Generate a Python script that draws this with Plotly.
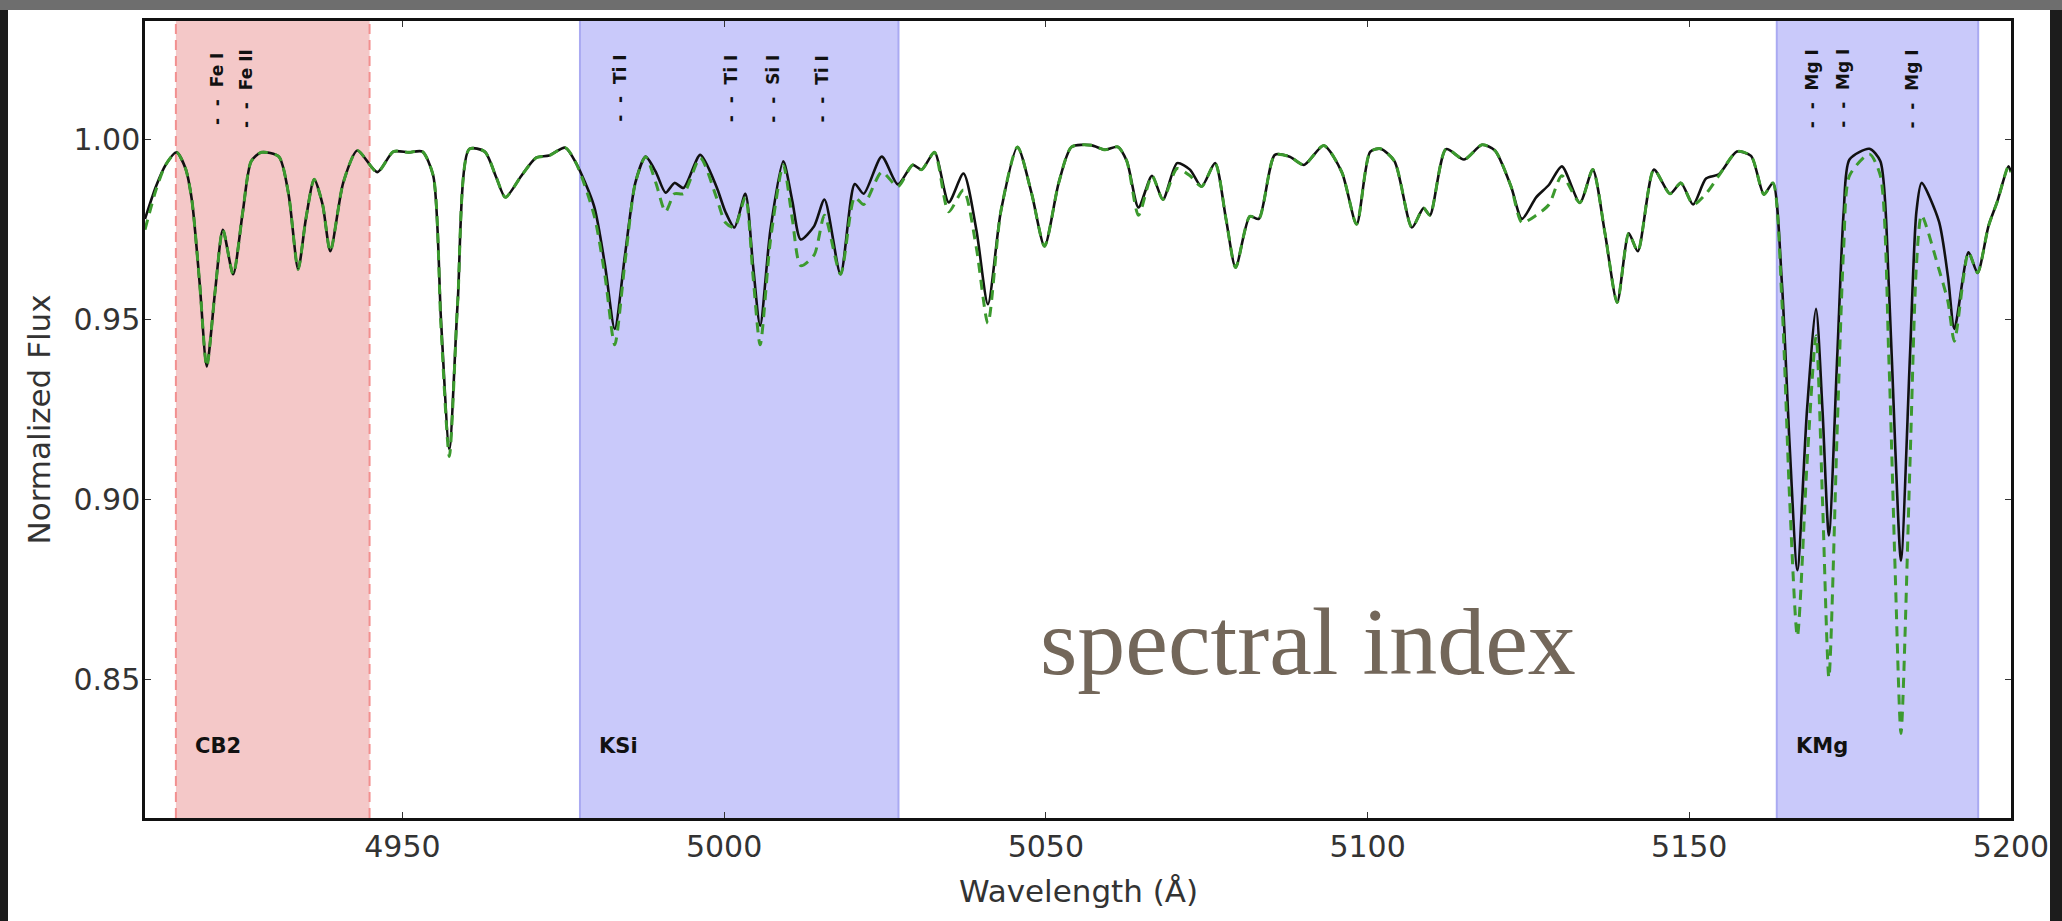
import plotly.graph_objects as go

# ---------------- data ----------------
wavelength = [
    4910.0, 4911.7, 4913.2, 4914.9, 4916.3, 4917.3, 4918.5, 4919.6, 4920.9, 4922.1,
    4923.7, 4925.2, 4926.5, 4928.1, 4930.8, 4932.3, 4933.8, 4935.0, 4936.3, 4937.6,
    4938.8, 4940.8, 4943.0, 4946.1, 4948.6, 4951.0, 4953.1, 4954.8, 4956.0, 4957.3,
    4958.6, 4960.4, 4962.8, 4964.6, 4966.0, 4968.5, 4970.8, 4972.8, 4975.3, 4977.0,
    4979.8, 4981.5, 4983.0, 4984.6, 4986.2, 4987.8, 4989.4, 4990.9, 4992.3, 4993.7,
    4996.3, 4998.8, 5000.2, 5001.6, 5003.3, 5004.5, 5005.6, 5007.2, 5009.2, 5010.6,
    5011.9, 5014.0, 5015.6, 5018.1, 5020.3, 5021.7, 5024.5, 5027.0, 5029.3, 5030.7,
    5032.7, 5034.9, 5037.2, 5039.2, 5041.0, 5043.0, 5045.6, 5047.8, 5049.8, 5052.0,
    5054.0, 5057.0, 5059.2, 5061.2, 5062.6, 5064.4, 5066.5, 5068.2, 5070.4, 5072.4,
    5074.2, 5076.3, 5078.0, 5079.5, 5081.7, 5083.1, 5085.6, 5087.9, 5090.1, 5093.2,
    5096.0, 5098.3, 5100.4, 5102.0, 5104.2, 5106.9, 5108.7, 5109.7, 5112.2, 5115.0,
    5117.8, 5119.8, 5122.3, 5124.0, 5126.2, 5128.2, 5130.2, 5133.0, 5135.0, 5136.9,
    5138.8, 5140.6, 5142.0, 5144.5, 5147.0, 5148.7, 5150.6, 5152.6, 5154.6, 5157.4,
    5159.6, 5161.6, 5163.0, 5164.4, 5165.6, 5166.8, 5168.3, 5169.7, 5170.7, 5171.7,
    5173.0, 5174.0, 5174.9, 5178.0, 5179.7, 5181.0, 5182.0, 5182.9, 5184.3, 5185.3,
    5186.1, 5188.8, 5190.2, 5191.2, 5193.4, 5194.8, 5196.5, 5197.9, 5199.6, 5200.0,
]

flux_black = [
    0.978, 0.987, 0.993, 0.9965, 0.992, 0.983, 0.960, 0.937, 0.958, 0.975,
    0.9626, 0.980, 0.994, 0.9965, 0.9953, 0.985, 0.964, 0.978, 0.989, 0.982,
    0.969, 0.988, 0.997, 0.991, 0.9967, 0.9965, 0.9967, 0.990, 0.950, 0.914,
    0.955, 0.9974, 0.9967, 0.9895, 0.984, 0.990, 0.995, 0.9956, 0.9978, 0.9935,
    0.9815, 0.965, 0.9474, 0.968, 0.988, 0.9953, 0.991, 0.9853, 0.988, 0.9866,
    0.9958, 0.987, 0.980, 0.9756, 0.985, 0.965, 0.9483, 0.975, 0.994, 0.983,
    0.9723, 0.976, 0.9834, 0.9626, 0.9877, 0.985, 0.9953, 0.9876, 0.993, 0.9917,
    0.9965, 0.9826, 0.9906, 0.975, 0.9543, 0.980, 0.998, 0.985, 0.9704, 0.988,
    0.998, 0.9985, 0.9972, 0.998, 0.994, 0.9812, 0.990, 0.9834, 0.9935, 0.9917,
    0.987, 0.9935, 0.978, 0.9645, 0.9787, 0.978, 0.9958, 0.9953, 0.993, 0.9984,
    0.991, 0.9765, 0.9966, 0.9975, 0.994, 0.9756, 0.981, 0.979, 0.9974, 0.9945,
    0.9986, 0.997, 0.987, 0.978, 0.984, 0.9875, 0.9926, 0.9825, 0.9917, 0.974,
    0.9548, 0.974, 0.969, 0.9917, 0.985, 0.988, 0.982, 0.9892, 0.9904, 0.9967,
    0.9955, 0.9848, 0.988, 0.960, 0.915, 0.8804, 0.925, 0.953, 0.925, 0.890,
    0.940, 0.980, 0.9945, 0.9975, 0.994, 0.960, 0.915, 0.883, 0.940, 0.980,
    0.988, 0.9773, 0.962, 0.9474, 0.9687, 0.963, 0.976, 0.983, 0.9926, 0.991,
]

flux_green = [
    0.975, 0.986, 0.993, 0.9965, 0.992, 0.983, 0.960, 0.937, 0.958, 0.975,
    0.9626, 0.980, 0.994, 0.9965, 0.9953, 0.985, 0.964, 0.978, 0.989, 0.982,
    0.969, 0.988, 0.997, 0.991, 0.9967, 0.9965, 0.9967, 0.990, 0.948, 0.912,
    0.955, 0.9974, 0.9967, 0.9895, 0.984, 0.990, 0.995, 0.9956, 0.9978, 0.9935,
    0.979, 0.962, 0.943, 0.966, 0.988, 0.9953, 0.988, 0.980, 0.985, 0.985,
    0.995, 0.984, 0.977, 0.9756, 0.984, 0.962, 0.943, 0.972, 0.993, 0.978,
    0.965, 0.968, 0.979, 0.9626, 0.984, 0.982, 0.991, 0.987, 0.993, 0.9917,
    0.9965, 0.980, 0.986, 0.970, 0.949, 0.980, 0.998, 0.985, 0.9704, 0.988,
    0.998, 0.9985, 0.9972, 0.998, 0.994, 0.979, 0.990, 0.9834, 0.992, 0.990,
    0.987, 0.9935, 0.978, 0.9645, 0.9787, 0.978, 0.9958, 0.9953, 0.993, 0.9984,
    0.991, 0.9765, 0.9966, 0.9975, 0.994, 0.9756, 0.981, 0.979, 0.9974, 0.9945,
    0.9986, 0.997, 0.987, 0.977, 0.979, 0.982, 0.990, 0.9825, 0.9917, 0.974,
    0.9548, 0.974, 0.969, 0.9917, 0.985, 0.988, 0.982, 0.985, 0.990, 0.9967,
    0.9955, 0.9848, 0.988, 0.955, 0.900, 0.862, 0.910, 0.9455, 0.900, 0.8505,
    0.920, 0.970, 0.990, 0.996, 0.990, 0.940, 0.880, 0.835, 0.910, 0.965,
    0.979, 0.964, 0.955, 0.944, 0.9687, 0.963, 0.976, 0.983, 0.9926, 0.991,
]

# index bands
band_names = ["CB2", "KSi", "KMg"]
band_start = [4914.8, 4977.6, 5163.6]
band_end = [4944.9, 5027.1, 5194.9]
band_fill = ["#f4c8c8", "#c9c9fa", "#c9c9fa"]
band_edge = ["#f29090", "#aaaaf2", "#aaaaf2"]
band_edge_dash = ["10px,6px", "solid", "solid"]

# line identifications
line_names = ["Fe I", "Fe II", "Ti I", "Ti I", "Si I", "Ti I", "Mg I", "Mg I", "Mg I"]
line_wave = [4921.1, 4925.6, 4983.7, 5001.0, 5007.6, 5015.2, 5169.0, 5173.9, 5184.6]

x_ticks = [4950, 5000, 5050, 5100, 5150, 5200]
y_ticks = [0.85, 0.90, 0.95, 1.00]
x_range = [4910, 5200]
y_range = [0.8115, 1.033]

# ---------------- figure ----------------
W, H = 2062, 921
ml, mr, mt, mb = 145, 51, 21, 103
pw, ph = W - ml - mr, H - mt - mb

def px_x(p):
    return (p - ml) / pw

def px_y(p):
    return (H - mb - p) / ph

fig = go.Figure()

fig.add_trace(go.Scatter(
    x=wavelength, y=flux_black, mode="lines",
    line=dict(color="#111111", width=2.6, shape="spline", smoothing=0.7),
    showlegend=False, hoverinfo="skip"))
fig.add_trace(go.Scatter(
    x=wavelength, y=flux_green, mode="lines",
    line=dict(color="#3c9a2e", width=3, dash="10px,7px", shape="spline", smoothing=0.7),
    showlegend=False, hoverinfo="skip"))

shapes = []
# slide photo: white panel on dark background
shapes.append(dict(type="rect", xref="paper", yref="paper", layer="below",
                   x0=px_x(-5), x1=px_x(W + 5), y0=px_y(-5), y1=px_y(10),
                   fillcolor="#6e6e6e", line=dict(width=0)))
shapes.append(dict(type="rect", xref="paper", yref="paper", layer="below",
                   x0=px_x(8), x1=px_x(2050), y0=px_y(H + 5), y1=px_y(10),
                   fillcolor="white", line=dict(width=0)))
for name, a, b, fc, ec, ed in zip(band_names, band_start, band_end, band_fill, band_edge, band_edge_dash):
    shapes.append(dict(type="rect", xref="x", yref="paper", layer="below",
                       x0=a, x1=b, y0=0, y1=1, fillcolor=fc, line=dict(width=0)))
    for xv in (a, b):
        shapes.append(dict(type="line", xref="x", yref="paper", layer="below",
                           x0=xv, x1=xv, y0=0, y1=1,
                           line=dict(color=ec, width=2, dash=ed)))
# dark border on the right clips the last tick label, as in the photo
shapes.append(dict(type="rect", xref="paper", yref="paper", layer="above",
                   x0=px_x(2050), x1=px_x(W + 5), y0=px_y(H + 5), y1=px_y(10),
                   fillcolor="#1c1c1c", line=dict(width=0)))

annotations = []
for nm, lw in zip(line_names, line_wave):
    annotations.append(dict(x=lw, y=1.0142, xref="x", yref="y", text="-  -  " + nm,
                            textangle=-90, showarrow=False, xanchor="center", yanchor="middle",
                            font=dict(family="DejaVu Sans", size=17, color="#111111", weight="bold")))
for name, a in zip(band_names, band_start):
    annotations.append(dict(x=a + 2.6, y=0.8314, xref="x", yref="y", text=name,
                            showarrow=False, xanchor="left", yanchor="middle",
                            font=dict(family="DejaVu Sans", size=21, color="#111111", weight="bold")))
annotations.append(dict(x=5090.7, y=0.8605, xref="x", yref="y", text="spectral index",
                        showarrow=False, xanchor="center", yanchor="middle",
                        font=dict(family="Liberation Serif", size=96, color="#73675a")))
annotations.append(dict(x=px_x(38), y=0.5, xref="paper", yref="paper", text="Normalized Flux",
                        textangle=-90, showarrow=False, xanchor="center", yanchor="middle",
                        font=dict(family="DejaVu Sans", size=31, color="#333333")))
annotations.append(dict(x=0.5, y=px_y(891), xref="paper", yref="paper", text="Wavelength (Å)",
                        showarrow=False, xanchor="center", yanchor="middle",
                        font=dict(family="DejaVu Sans", size=31, color="#333333")))

axis_common = dict(showgrid=False, zeroline=False, showline=True, linecolor="#111111",
                   linewidth=2.5, mirror="ticks", ticks="inside", ticklen=6, tickwidth=1,
                   tickcolor="#333333",
                   tickfont=dict(family="DejaVu Sans", size=30, color="#333333"))

fig.update_layout(
    width=W, height=H,
    margin=dict(l=ml, r=mr, t=mt, b=mb, pad=0),
    paper_bgcolor="#1c1c1c",
    plot_bgcolor="rgba(0,0,0,0)",
    shapes=shapes,
    annotations=annotations,
    xaxis=dict(range=x_range, tickvals=x_ticks, ticktext=[str(v) for v in x_ticks], **axis_common),
    yaxis=dict(range=y_range, tickvals=y_ticks, ticktext=[f"{v:.2f}" for v in y_ticks],
               ticklabelstandoff=-4, **axis_common),
)

fig.write_html("out.html", config={"displayModeBar": False},
               post_script="document.body.style.margin='0';document.body.style.overflow='hidden';")
